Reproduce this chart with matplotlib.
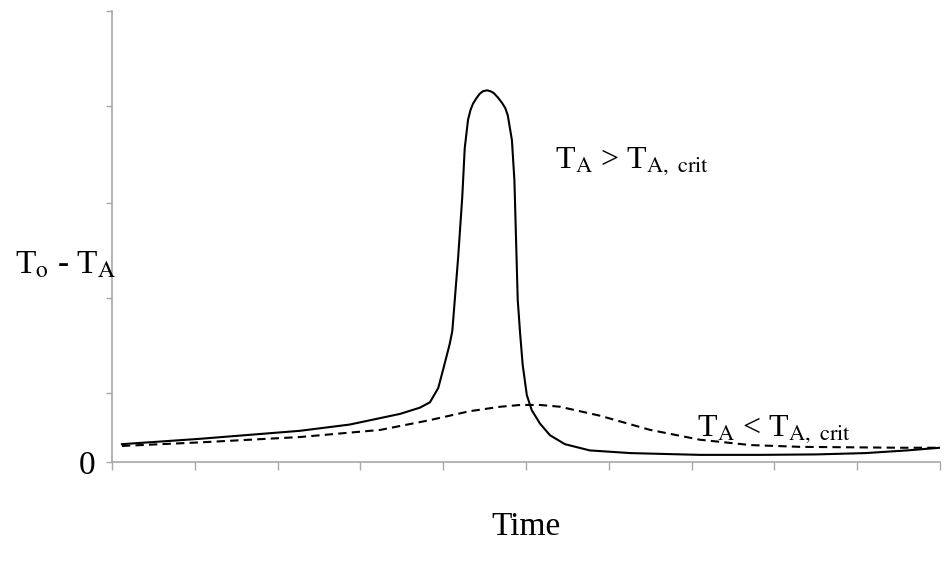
import matplotlib
matplotlib.use('Agg')
import matplotlib.pyplot as plt

plt.rcParams['font.family'] = ['Liberation Serif', 'DejaVu Serif']
plt.rcParams['mathtext.fontset'] = 'stix'

# Temperature difference over time, above and below the critical ambient temperature
t_above = [0.12, 1.06, 2.27, 2.87, 3.48, 3.72, 3.84, 3.94, 4.00, 4.05, 4.08, 4.11,
           4.14, 4.18, 4.23, 4.26, 4.30, 4.33, 4.36, 4.40, 4.44, 4.48, 4.53, 4.57,
           4.61, 4.66, 4.71, 4.75, 4.78, 4.83, 4.86, 4.88, 4.90, 4.93, 4.96, 5.01,
           5.07, 5.17, 5.29, 5.47, 5.77, 6.26, 7.10, 7.83, 8.50, 9.10, 9.60, 10.0]
dT_above = [0.20, 0.26, 0.35, 0.42, 0.54, 0.61, 0.67, 0.83, 1.04, 1.22, 1.33, 1.47,
            1.82, 2.29, 2.97, 3.52, 3.84, 3.95, 4.02, 4.08, 4.13, 4.16, 4.17, 4.16,
            4.14, 4.09, 4.03, 3.97, 3.89, 3.61, 3.16, 2.49, 1.82, 1.43, 1.09, 0.75,
            0.58, 0.43, 0.30, 0.20, 0.13, 0.10, 0.08, 0.08, 0.085, 0.10, 0.13, 0.16]

t_below = [0.12, 1.06, 2.27, 3.24, 3.84, 4.32, 4.69, 4.93, 5.17, 5.41, 5.89, 6.50,
           7.10, 7.71, 8.31, 8.91, 9.52, 10.0]
dT_below = [0.18, 0.22, 0.28, 0.36, 0.47, 0.57, 0.62, 0.64, 0.64, 0.62, 0.52, 0.36,
            0.25, 0.19, 0.17, 0.165, 0.16, 0.16]

W, H = 945, 564
fig = plt.figure(figsize=(W / 100, H / 100), dpi=100)
ax = fig.add_axes([112 / W, 1 - 462 / H, 828 / W, 451 / H])

ax.plot(t_above, dT_above, color='black', lw=1.5)
ax.plot(t_below, dT_below, color='black', lw=1.5, dashes=(4, 2.5))

ax.set_xlim(0, 10)
ax.set_ylim(0, 5.06)
ax.set_xticks(range(11))
ax.set_xticklabels([''] * 11)
ax.set_yticks([0, 0.77, 1.84, 2.91, 3.99, 5.06])
ax.set_yticklabels(['0', '', '', '', '', ''], fontsize=24)

for side in ['top', 'right']:
    ax.spines[side].set_visible(False)
for side in ['left', 'bottom']:
    ax.spines[side].set_color('#a8a8a8')
    ax.spines[side].set_linewidth(1.2)
ax.tick_params(axis='x', color='#a8a8a8', length=6, width=1.0, direction='out')
ax.tick_params(axis='y', color='#a8a8a8', length=4, width=1.0, direction='out', pad=8)

fig.text(555 / W, 1 - 168 / H, r'T$_\mathrm{A}$ > T$_\mathrm{A,\ crit}$', fontsize=23, va='baseline')
fig.text(697 / W, 1 - 436 / H, r'T$_\mathrm{A}$ < T$_\mathrm{A,\ crit}$', fontsize=23, va='baseline')

fig.text(15 / W, 1 - 273 / H, r'T$_\mathrm{o}$ - T$_\mathrm{A}$', fontsize=24, va='baseline')
fig.text(526 / W, 1 - 535 / H, 'Time', fontsize=24, ha='center', va='baseline')

fig.savefig('out.png', dpi=100)
